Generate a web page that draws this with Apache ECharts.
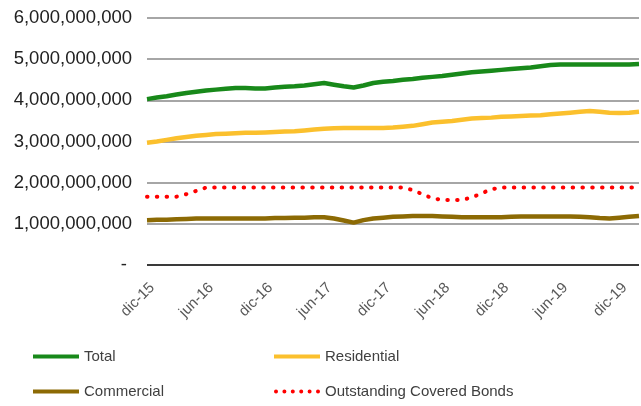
<!DOCTYPE html>
<html>
<head>
<meta charset="utf-8">
<script src="https://cdn.jsdelivr.net/npm/echarts@6/dist/echarts.min.js"></script>
<style>
html,body{margin:0;padding:0;background:#fff;}
#chart{width:641px;height:406px;}
</style>
</head>
<body>
<div id="chart"></div>
<script>
// Monthly categories dic-15 .. feb-20
const categories = [
  'dic-15',
  'ene-16','feb-16','mar-16','abr-16','may-16','jun-16','jul-16','ago-16','sep-16','oct-16','nov-16','dic-16',
  'ene-17','feb-17','mar-17','abr-17','may-17','jun-17','jul-17','ago-17','sep-17','oct-17','nov-17','dic-17',
  'ene-18','feb-18','mar-18','abr-18','may-18','jun-18','jul-18','ago-18','sep-18','oct-18','nov-18','dic-18',
  'ene-19','feb-19','mar-19','abr-19','may-19','jun-19','jul-19','ago-19','sep-19','oct-19','nov-19','dic-19',
  'ene-20','feb-20'
];

// values in billions (multiplied by 1e9 below)
const totalB = [
  4.03,
  4.07,4.10,4.14,4.18,4.21,4.24,4.26,4.28,4.30,4.30,4.29,4.29,
  4.31,4.33,4.34,4.36,4.39,4.42,4.38,4.34,4.31,4.36,4.42,4.45,
  4.47,4.50,4.52,4.55,4.57,4.59,4.62,4.65,4.68,4.70,4.72,4.74,
  4.76,4.78,4.80,4.83,4.86,4.87,4.87,4.87,4.87,4.87,4.87,4.87,
  4.87,4.88
];
const residentialB = [
  2.97,
  3.00,3.04,3.08,3.11,3.14,3.16,3.18,3.19,3.20,3.21,3.21,3.22,
  3.23,3.24,3.25,3.27,3.29,3.31,3.32,3.33,3.33,3.33,3.33,3.33,
  3.34,3.36,3.38,3.42,3.46,3.48,3.50,3.53,3.56,3.57,3.58,3.60,
  3.61,3.62,3.63,3.64,3.66,3.68,3.70,3.72,3.74,3.72,3.70,3.69,
  3.70,3.72
];
const commercialB = [
  1.09,
  1.10,1.10,1.11,1.12,1.13,1.13,1.13,1.13,1.13,1.13,1.13,1.13,
  1.14,1.14,1.15,1.15,1.16,1.16,1.13,1.08,1.03,1.09,1.13,1.15,
  1.17,1.18,1.19,1.19,1.19,1.18,1.17,1.16,1.16,1.16,1.16,1.16,
  1.17,1.18,1.18,1.18,1.18,1.18,1.18,1.17,1.16,1.14,1.13,1.15,
  1.17,1.19
];
const coveredB = [
  1.66,
  1.66,1.66,1.66,1.72,1.80,1.88,1.88,1.88,1.88,1.88,1.88,1.88,
  1.88,1.88,1.88,1.88,1.88,1.88,1.88,1.88,1.88,1.88,1.88,1.88,
  1.88,1.88,1.82,1.72,1.62,1.58,1.58,1.58,1.64,1.74,1.84,1.88,
  1.88,1.88,1.88,1.88,1.88,1.88,1.88,1.88,1.88,1.88,1.88,1.88,
  1.88,1.88
];
const yTicks = [0, 1e9, 2e9, 3e9, 4e9, 5e9, 6e9];

const toVal = a => a.map(v => Math.round(v * 1e9));

// dotted legend icon: six round dots in a 46x4 box
function dotsPath() {
  let p = 'path://';
  for (let i = 0; i < 6; i++) {
    const cx = 2 + i * 8.4;
    p += 'M' + (cx - 2) + ',2 A2,2 0 1,1 ' + (cx + 2) + ',2 A2,2 0 1,1 ' + (cx - 2) + ',2 Z ';
  }
  return p;
}

const chart = echarts.init(document.getElementById('chart'), null, {renderer: 'canvas'});

const legendText = {fontFamily: 'Liberation Sans', fontSize: 15, color: '#404040'};
const mkLegend = (name, left, top, icon) => ({
  data: [{name: name, icon: icon}], left: left, top: top, orient: 'horizontal',
  itemWidth: 46, itemHeight: 4, itemGap: 5, padding: 0,
  textStyle: legendText, selectedMode: false
});

chart.setOption({
  animation: false,
  backgroundColor: '#fff',
  grid: {left: 147, right: 2, top: 18, bottom: 141, containLabel: false},
  legend: [
    mkLegend('Total', 33, 349, 'rect'),
    mkLegend('Residential', 274, 349, 'rect'),
    mkLegend('Commercial', 33, 384, 'rect'),
    mkLegend('Outstanding Covered Bonds', 274, 384, dotsPath())
  ],
  xAxis: {
    type: 'category',
    data: categories,
    boundaryGap: false,
    axisLine: {show: false},
    axisTick: {show: false},
    axisLabel: {
      interval: 5,
      rotate: 45,
      margin: 15,
      verticalAlign: 'top',
      fontFamily: 'Liberation Sans',
      fontSize: 15,
      color: '#595959'
    },
    splitLine: {show: false}
  },
  yAxis: {
    type: 'value',
    min: 0, max: 6e9, interval: 1e9,
    axisLine: {show: false},
    axisTick: {show: false},
    axisLabel: {
      margin: 15,
      fontFamily: 'Liberation Sans',
      fontSize: 18.5,
      color: '#222',
      formatter: v => v === 0 ? '- ' : v.toLocaleString('en-US')
    },
    splitLine: {
      show: true,
      lineStyle: {
        color: ['#3a3a3a', '#a6a6a6', '#a6a6a6', '#a6a6a6', '#a6a6a6', '#a6a6a6', '#a6a6a6'],
        width: 2
      }
    }
  },
  series: [
    {name: 'Total', type: 'line', data: toVal(totalB), showSymbol: false, symbol: 'none',
      color: '#18891a', lineStyle: {width: 4.5, color: '#18891a'}},
    {name: 'Residential', type: 'line', data: toVal(residentialB), showSymbol: false, symbol: 'none',
      color: '#fbc02d', lineStyle: {width: 4.5, color: '#fbc02d'}},
    {name: 'Commercial', type: 'line', data: toVal(commercialB), showSymbol: false, symbol: 'none',
      color: '#8c6a04', lineStyle: {width: 4.5, color: '#8c6a04'}},
    {name: 'Outstanding Covered Bonds', type: 'line', data: toVal(coveredB), showSymbol: false, symbol: 'none',
      color: '#ff0000', lineStyle: {width: 4, color: '#ff0000', type: [0.5, 9.3], cap: 'round'}}
  ]
});
</script>
</body>
</html>
